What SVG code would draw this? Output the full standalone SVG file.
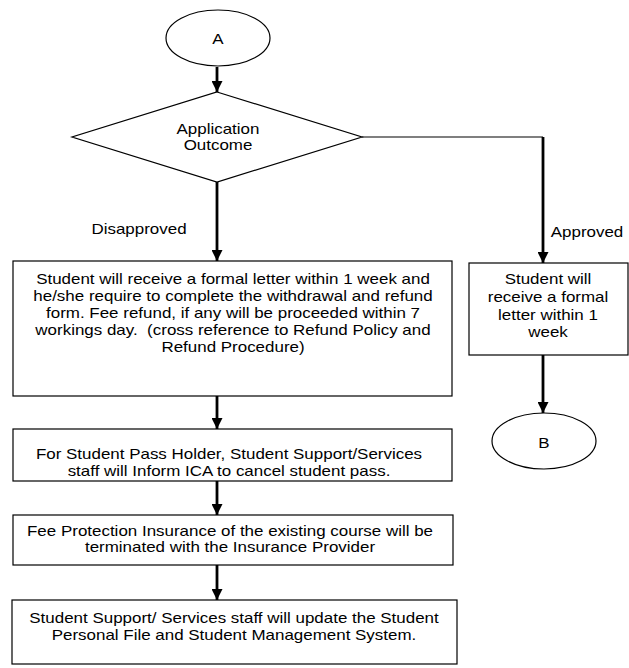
<svg xmlns="http://www.w3.org/2000/svg" width="629" height="668" viewBox="0 0 629 668">
<defs>
<marker id="ah" markerWidth="11" markerHeight="11" refX="11" refY="5.5" orient="auto" markerUnits="userSpaceOnUse">
<path d="M0,0 L11,5.5 L0,11 z" fill="#000"/>
</marker>
</defs>
<style>
.shape{fill:#fff;stroke:#000;stroke-width:1.2}
.t{font-family:"Liberation Sans",Arial,sans-serif;font-size:15px;fill:#000;text-anchor:middle}
.arr{fill:none;stroke:#000;stroke-width:2.8;marker-end:url(#ah)}
.thin{fill:none;stroke:#000;stroke-width:1.2}
</style>
<rect width="629" height="668" fill="#fff"/>
<g id="connectors">
<path class="arr" d="M217,67 L217,92"/>
<path class="arr" d="M217,182 L217,261"/>
<path class="thin" d="M362,137 L543,137"/>
<path class="arr" d="M543,137 L543,263"/>
<path class="arr" d="M543,355 L543,413"/>
<path class="arr" d="M217,396 L217,429"/>
<path class="arr" d="M217,481 L217,515"/>
<path class="arr" d="M217,565 L217,600"/>
<text class="t" transform="translate(139 0) scale(1.13 1)" x="0" y="234">Disapproved</text>
<text class="t" transform="translate(587 0) scale(1.13 1)" x="0" y="237">Approved</text>
</g>
<g id="nodeA">
<ellipse class="shape" cx="218" cy="38" rx="52" ry="28"/>
<text class="t" transform="translate(218 0) scale(1.13 1)" x="0" y="44">A</text>
</g>
<g id="decision">
<polygon class="shape" points="217,92 362,137 217,182 72,137"/>
<text class="t" transform="translate(218 0) scale(1.13 1)"><tspan x="0" y="134">Application</tspan><tspan x="0" y="150">Outcome</tspan></text>
</g>
<g id="disapprovedBox">
<rect class="shape" x="13" y="261" width="439" height="135"/>
<text class="t" transform="translate(233 0) scale(1.13 1)"><tspan x="0" y="284">Student will receive a formal letter within 1 week and</tspan><tspan x="0" y="301">he/she require to complete the withdrawal and refund</tspan><tspan x="0" y="318">form. Fee refund, if any will be proceeded within 7</tspan><tspan x="0" y="335">workings day.&#160; (cross reference to Refund Policy and</tspan><tspan x="0" y="352">Refund Procedure)</tspan></text>
</g>
<g id="approvedBox">
<rect class="shape" x="469" y="263" width="159" height="92"/>
<text class="t" transform="translate(548 0) scale(1.13 1)"><tspan x="0" y="284">Student will</tspan><tspan x="0" y="302">receive a formal</tspan><tspan x="0" y="320">letter within 1</tspan><tspan x="0" y="337">week</tspan></text>
</g>
<g id="nodeB">
<ellipse class="shape" cx="544" cy="441" rx="52" ry="28"/>
<text class="t" transform="translate(544 0) scale(1.13 1)" x="0" y="448">B</text>
</g>
<g id="passBox">
<rect class="shape" x="13" y="429" width="439" height="52"/>
<text class="t" transform="translate(229 0) scale(1.13 1)"><tspan x="0" y="459">For Student Pass Holder, Student Support/Services</tspan><tspan x="0" y="476">staff will Inform ICA to cancel student pass.</tspan></text>
</g>
<g id="insuranceBox">
<rect class="shape" x="13" y="515" width="440" height="50"/>
<text class="t" transform="translate(230 0) scale(1.13 1)"><tspan x="0" y="536">Fee Protection Insurance of the existing course will be</tspan><tspan x="0" y="552">terminated with the Insurance Provider</tspan></text>
</g>
<g id="updateBox">
<rect class="shape" x="12" y="600" width="445" height="64"/>
<text class="t" transform="translate(234 0) scale(1.13 1)"><tspan x="0" y="623">Student Support/ Services staff will update the Student</tspan><tspan x="0" y="640">Personal File and Student Management System.</tspan></text>
</g>
</svg>
